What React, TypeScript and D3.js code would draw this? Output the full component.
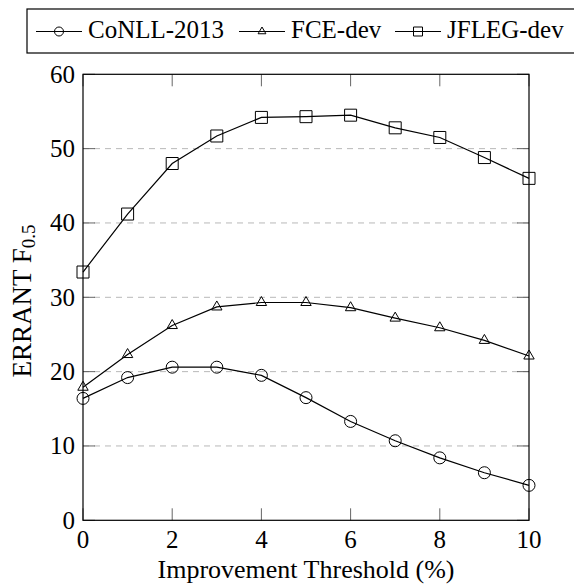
import React, { useEffect, useRef } from 'react';
import * as d3 from 'd3';

// chart values
const thresholds = [0, 1, 2, 3, 4, 5, 6, 7, 8, 9, 10];
const conll2013 = [16.4, 19.2, 20.6, 20.6, 19.5, 16.5, 13.3, 10.7, 8.4, 6.4, 4.7];
const fceDev = [17.9, 22.3, 26.2, 28.7, 29.3, 29.3, 28.6, 27.2, 25.9, 24.2, 22.1];
const jflegDev = [33.4, 41.2, 48.0, 51.7, 54.2, 54.3, 54.5, 52.8, 51.5, 48.8, 46.0];
const xTicks = [0, 2, 4, 6, 8, 10];
const yTicks = [0, 10, 20, 30, 40, 50, 60];
const seriesNames = ['CoNLL-2013', 'FCE-dev', 'JFLEG-dev'];
const markerKinds = ['circle', 'triangle', 'square'];

const FONT = 'Liberation Serif';

const markerPath = (kind: string, s: number) => {
  if (kind === 'circle') {
    return `M${s},0A${s},${s} 0 1,1 ${-s},0A${s},${s} 0 1,1 ${s},0Z`;
  }
  if (kind === 'triangle') {
    const h = s * Math.sqrt(3) / 2;
    return `M0,${-s}L${h},${s / 2}L${-h},${s / 2}Z`;
  }
  return `M${-s},${-s}H${s}V${s}H${-s}Z`;
};

const Chart = () => {
  const svgRef = useRef<SVGSVGElement>(null);

  useEffect(() => {
    const svg = d3.select(svgRef.current);
    const width = 574;
    const height = 586;
    const margin = { top: 74.3, right: 45, bottom: 65.7, left: 83 };
    const innerWidth = width - margin.left - margin.right;
    const innerHeight = height - margin.top - margin.bottom;

    const x = d3.scaleLinear().domain([0, 10]).range([0, innerWidth]);
    const y = d3.scaleLinear().domain([0, 60]).range([innerHeight, 0]);

    const g = svg
      .append('g')
      .attr('transform', `translate(${margin.left},${margin.top})`);

    // dashed grid
    g.selectAll('line.grid')
      .data(yTicks.filter((t) => t > 0 && t < 60))
      .enter()
      .append('line')
      .attr('class', 'grid')
      .attr('x1', 0)
      .attr('x2', innerWidth)
      .attr('y1', (d) => y(d))
      .attr('y2', (d) => y(d))
      .attr('stroke', '#b8b8b8')
      .attr('stroke-width', 1)
      .attr('stroke-dasharray', '6,5');

    const tickLen = 12;
    // y ticks, both sides, pointing inward
    yTicks.forEach((t) => {
      g.append('line')
        .attr('x1', 0).attr('x2', tickLen)
        .attr('y1', y(t)).attr('y2', y(t))
        .attr('stroke', '#555').attr('stroke-width', 0.9);
      g.append('line')
        .attr('x1', innerWidth - tickLen).attr('x2', innerWidth)
        .attr('y1', y(t)).attr('y2', y(t))
        .attr('stroke', '#555').attr('stroke-width', 0.9);
    });
    // x ticks, top and bottom
    xTicks.forEach((t) => {
      g.append('line')
        .attr('x1', x(t)).attr('x2', x(t))
        .attr('y1', innerHeight).attr('y2', innerHeight - tickLen)
        .attr('stroke', '#555').attr('stroke-width', 0.9);
      g.append('line')
        .attr('x1', x(t)).attr('x2', x(t))
        .attr('y1', 0).attr('y2', tickLen)
        .attr('stroke', '#555').attr('stroke-width', 0.9);
    });

    // tick labels
    g.selectAll('text.ylab')
      .data(yTicks)
      .enter()
      .append('text')
      .attr('x', -8)
      .attr('y', (d) => y(d))
      .attr('dy', '0.33em')
      .attr('text-anchor', 'end')
      .style('font-size', '25px')
      .text((d) => d);

    g.selectAll('text.xlab')
      .data(xTicks)
      .enter()
      .append('text')
      .attr('x', (d) => x(d))
      .attr('y', innerHeight + 28)
      .attr('text-anchor', 'middle')
      .style('font-size', '25px')
      .text((d) => d);

    // series
    const allSeries = [conll2013, fceDev, jflegDev];
    const line = d3
      .line<number>()
      .x((_, i) => x(thresholds[i]))
      .y((d) => y(d));

    allSeries.forEach((vals, si) => {
      g.append('path')
        .attr('d', line(vals))
        .attr('fill', 'none')
        .attr('stroke', 'black')
        .attr('stroke-width', 1.2);
      g.selectAll(`path.m${si}`)
        .data(vals)
        .enter()
        .append('path')
        .attr('class', `m${si}`)
        .attr('transform', (d, i) => `translate(${x(thresholds[i])},${y(d)})`)
        .attr('d', markerPath(markerKinds[si], 6))
        .attr('fill', 'none')
        .attr('stroke', 'black')
        .attr('stroke-width', 1);
    });

    // frame
    g.append('rect')
      .attr('width', innerWidth)
      .attr('height', innerHeight)
      .attr('fill', 'none')
      .attr('stroke', 'black')
      .attr('stroke-width', 1.2);

    // axis titles
    svg.append('text')
      .attr('x', margin.left + innerWidth / 2)
      .attr('y', 578)
      .attr('text-anchor', 'middle')
      .style('font-size', '26px')
      .text('Improvement Threshold (%)');

    const yt = svg.append('text')
      .attr('transform', `translate(31,301) rotate(-90)`)
      .attr('text-anchor', 'middle')
      .style('font-size', '27px');
    yt.append('tspan').text('ERRANT F');
    yt.append('tspan').style('font-size', '19px').attr('dy', 4).text('0.5');

    // legend
    const lg = svg.append('g');
    lg.append('rect')
      .attr('x', 27).attr('y', 9)
      .attr('width', 560).attr('height', 44)
      .attr('fill', 'white')
      .attr('stroke', 'black')
      .attr('stroke-width', 1.2);
    const legendX = [36, 239, 395];
    const legendY = 31.5;
    seriesNames.forEach((name, i) => {
      const x0 = legendX[i];
      lg.append('line')
        .attr('x1', x0).attr('x2', x0 + 46)
        .attr('y1', legendY).attr('y2', legendY)
        .attr('stroke', 'black').attr('stroke-width', 1.2);
      lg.append('path')
        .attr('transform', `translate(${x0 + 23},${legendY})`)
        .attr('d', markerPath(markerKinds[i], 4.5))
        .attr('fill', 'none')
        .attr('stroke', 'black')
        .attr('stroke-width', 1);
      lg.append('text')
        .attr('x', x0 + 52)
        .attr('y', 38)
        .style('font-size', '25px')
        .text(name);
    });

    return () => {
      svg.selectAll('*').remove();
    };
  }, []);

  return (
    <svg
      ref={svgRef}
      width={574}
      height={586}
      style={{
        position: 'absolute',
        left: 0,
        top: 0,
        background: 'white',
        fontFamily: FONT,
      }}
    ></svg>
  );
};

export default function App() {
  return <Chart />;
}
